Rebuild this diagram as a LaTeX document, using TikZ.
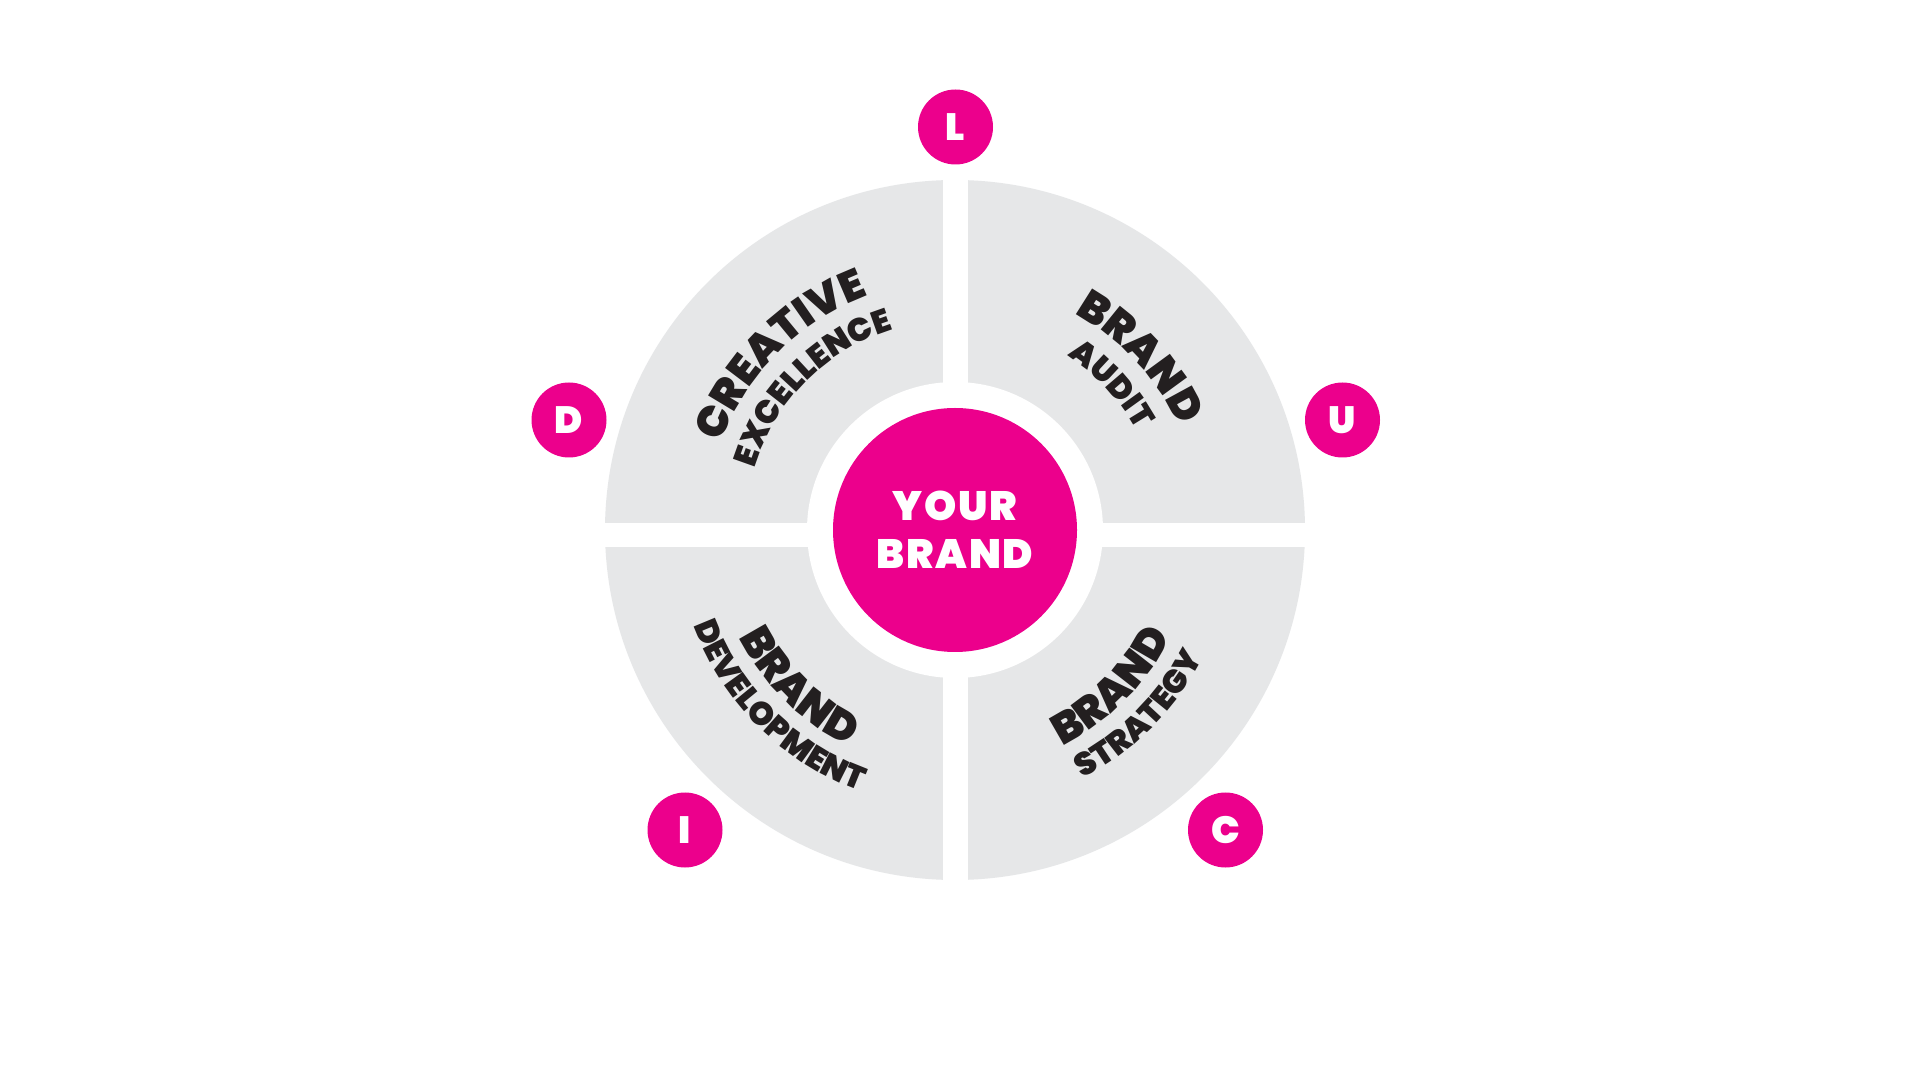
\documentclass[tikz,border=0pt]{standalone}
\usepackage{fontspec}
\usetikzlibrary{decorations.text,calc}
\IfFontExistsTF{Poppins Black}{\newfontfamily\heavyface{Poppins Black}\newfontfamily\heavyspaced{Poppins Black}[LetterSpace=4]\newcommand\hv{\heavyface}\newcommand\hvs{\heavyspaced}}{\newfontfamily\heavyface{Poppins}\newfontfamily\heavyspaced{Poppins}[LetterSpace=4]\newcommand\hv{\heavyface\bfseries}\newcommand\hvs{\heavyspaced\bfseries}}
\definecolor{pinkc}{HTML}{EC008C}
\definecolor{greyc}{HTML}{E6E7E8}
\definecolor{inkc}{HTML}{231F20}
\newcommand\bigw{\hv\fontsize{43}{43}\selectfont}
\newcommand\smallw{\hv\fontsize{32.5}{32.5}\selectfont}
\tikzset{
  letterdot/.style={circle, fill=pinkc, minimum size=75pt, inner sep=0pt, text=white, font=\hv\fontsize{38}{38}\selectfont},
  arctext/.style={decorate, decoration={text along path, text align=center, text color=inkc, text={#1}}}
}
\begin{document}
\begin{tikzpicture}[x=1pt,y=1pt]
\useasboundingbox[fill=white] (0,0) rectangle (1920,1080);
\coordinate (O) at (955,550);
\fill[greyc] (O) circle[radius=350];
\fill[white] (O) circle[radius=148];
\fill[white] (942.5,150) rectangle (967.5,950);
\fill[white] (550,533) rectangle (1360,557);
\node[circle, fill=pinkc, minimum size=244pt, inner sep=0pt] (core) at (O) {};
\node[text=white, align=center, font=\hvs\fontsize{41}{48}\selectfont] (brand) at (O) {YOUR\\BRAND};
% upper left
\path[arctext={|\bigw|CREATIVE}] ($(O)+(180:250)$) arc[start angle=180, end angle=90, radius=250];
\path[arctext={|\smallw|EXCELLENCE}] ($(O)+(180:210)$) arc[start angle=180, end angle=90, radius=210];
% upper right
\path[arctext={|\bigw|BRAND}] ($(O)+(88:247)$) arc[start angle=88, end angle=-2, radius=247];
\path[arctext={|\smallw|AUDIT}] ($(O)+(88:207)$) arc[start angle=88, end angle=-2, radius=207];
% lower left
\path[arctext={|\bigw|BRAND}] ($(O)+(180:241)$) arc[start angle=180, end angle=270, radius=241];
\path[arctext={|\smallw|DEVELOPMENT}] ($(O)+(180:278)$) arc[start angle=180, end angle=270, radius=278];
% lower right
\path[arctext={|\bigw|BRAND}] ($(O)+(270:241)$) arc[start angle=270, end angle=360, radius=241];
\path[arctext={|\smallw|STRATEGY}] ($(O)+(270:279)$) arc[start angle=270, end angle=360, radius=279];
% letter dots
\node[letterdot] (dL) at (955.5,953) {L};
\node[letterdot] (dD) at (569,660) {D};
\node[letterdot] (dU) at (1342.5,660) {U};
\node[letterdot] (dI) at (685,250) {I};
\node[letterdot] (dC) at (1225.5,250) {C};
\end{tikzpicture}
\end{document}
